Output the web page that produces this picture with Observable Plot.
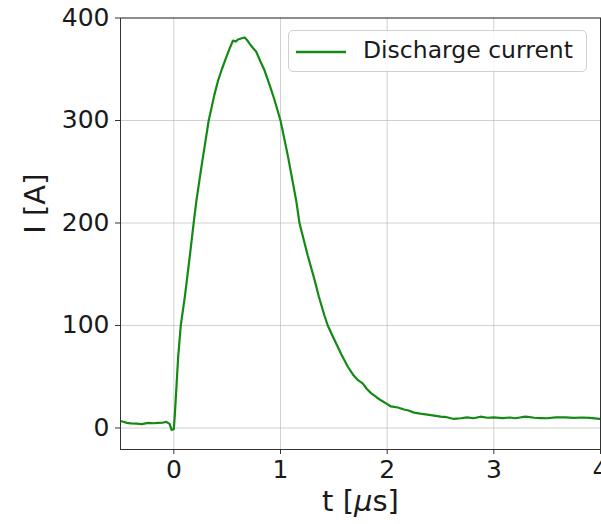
<!DOCTYPE html>
<html>
<head>
<meta charset="utf-8">
<script src="https://cdn.jsdelivr.net/npm/d3@7"></script>
<script src="https://cdn.jsdelivr.net/npm/@observablehq/plot@0.6"></script>
<style>
  body { margin: 0; background: #fff; }
  #wrap { position: relative; width: 601px; height: 524px; font-family: "DejaVu Sans", sans-serif; }
  #legend {
    position: absolute; left: 288px; top: 30px; width: 299px; height: 42px;
    border: 1px solid #d0d0d0; border-radius: 5px; background: rgba(255,255,255,0.8);
    box-sizing: border-box; font-size: 23.5px; color: #1a1a1a;
  }
  #legend svg { position: absolute; left: 6px; top: 18px; }
  #legend span { position: absolute; left: 74px; top: 5px; white-space: nowrap; }
</style>
</head>
<body>
<div id="wrap"></div>
<script>
const seriesName = "Discharge current";
const time = [-0.49, -0.44, -0.4, -0.35, -0.3, -0.24, -0.19, -0.15, -0.1, -0.07, -0.04, -0.02, 0.0, 0.01, 0.041, 0.065, 0.103, 0.15, 0.186, 0.212, 0.259, 0.3, 0.327, 0.38, 0.415, 0.45, 0.493, 0.53, 0.555, 0.58, 0.602, 0.63, 0.664, 0.69, 0.71, 0.74, 0.773, 0.81, 0.85, 0.9, 0.944, 1.0, 1.07, 1.147, 1.178, 1.256, 1.318, 1.36, 1.411, 1.443, 1.505, 1.57, 1.63, 1.68, 1.723, 1.77, 1.81, 1.848, 1.9, 1.941, 1.99, 2.035, 2.1, 2.159, 2.2, 2.253, 2.31, 2.378, 2.44, 2.502, 2.56, 2.626, 2.69, 2.75, 2.81, 2.875, 2.94, 3.0, 3.08, 3.15, 3.2, 3.26, 3.3, 3.38, 3.44, 3.5, 3.58, 3.67, 3.75, 3.83, 3.9, 3.99];
const current = [6.5, 5, 4.5, 4.2, 3.8, 5, 4.6, 5, 5.3, 6, 4, -2, -1, 14, 70, 100, 128, 168, 200, 222, 255, 282, 300, 325, 339, 350, 362, 372, 378, 377, 379, 380, 381, 378, 375, 371, 367, 358, 349, 334, 320, 300, 265, 222, 200, 168, 145, 128, 110, 100, 86, 72, 60, 52, 47, 43.6, 38, 34, 30, 27, 24, 21, 20, 18, 17, 15, 14, 13, 12, 11, 10.5, 8.8, 9.5, 10.4, 9.5, 11, 10, 10.4, 9.6, 10.2, 9.5, 10.5, 11, 10, 9.7, 9.5, 10.4, 10.4, 9.8, 10.2, 9.8, 8.8];
const xTicks = [0, 1, 2, 3, 4];
const yTicks = [0, 100, 200, 300, 400];
const xLabel = "t [μs]";
const yLabel = "I [A]";

const data = time.map((t, i) => ({t, I: current[i]}));
const lineColor = "#138a13";

const chart = Plot.plot({
  width: 601,
  height: 524,
  marginLeft: 120,
  marginRight: 1,
  marginTop: 17.5,
  marginBottom: 75,
  style: {fontFamily: "DejaVu Sans, sans-serif", fontSize: "25px", color: "#1a1a1a", background: "transparent"},
  x: {domain: [-0.5, 4]},
  y: {domain: [-21, 400]},
  marks: [
    Plot.gridX(xTicks, {stroke: "#b0b0b0", strokeOpacity: 0.6, strokeWidth: 1}),
    Plot.gridY(yTicks, {stroke: "#b0b0b0", strokeOpacity: 0.6, strokeWidth: 1}),
    Plot.line(data, {x: "t", y: "I", stroke: lineColor, strokeWidth: 2.2}),
    Plot.frame({stroke: "#333", strokeWidth: 1}),
    Plot.axisX(xTicks, {tickSize: 5, tickPadding: 6, fontSize: 25, label: null, stroke: "#333"}),
    Plot.axisY(yTicks, {tickSize: 5, tickPadding: 6, fontSize: 25, label: null, stroke: "#333"}),
    Plot.text([xLabel], {frameAnchor: "bottom", dy: 52, fontSize: 29, fill: "#1a1a1a", lineAnchor: "middle"}),
    Plot.text([yLabel], {frameAnchor: "left", dx: -85, rotate: -90, fontSize: 29, fill: "#1a1a1a", lineAnchor: "middle"})
  ]
});

// italic mu as in matplotlib mathtext
d3.select(chart).selectAll("text").each(function() {
  const el = d3.select(this);
  if (el.text() === xLabel) {
    el.text(null);
    el.append("tspan").text("t [");
    el.append("tspan").attr("font-style", "italic").text("μ");
    el.append("tspan").text("s]");
  }
});

const wrap = document.getElementById("wrap");
wrap.appendChild(chart);
const legend = document.createElement("div");
legend.id = "legend";
legend.innerHTML = `<svg width="54" height="6"><line x1="1" y1="3" x2="51" y2="3" stroke="${lineColor}" stroke-width="2.4"/></svg><span>${seriesName}</span>`;
wrap.appendChild(legend);
</script>
</body>
</html>
